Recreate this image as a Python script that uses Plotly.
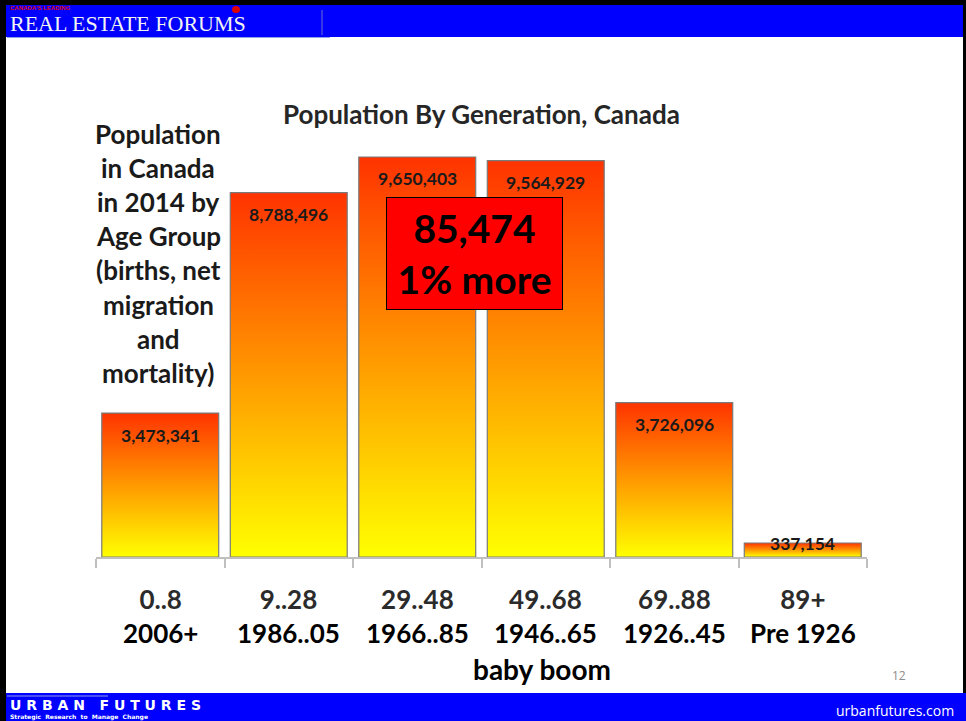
import plotly.graph_objects as go

# Population by generation, Canada 2014
age_groups = ["0..8", "9..28", "29..48", "49..68", "69..88", "89+"]
birth_years = ["2006+", "1986..05", "1966..85", "1946..65", "1926..45", "Pre 1926"]
population = [3473341, 8788496, 9650403, 9564929, 3726096, 337154]

side_note = ["Population", "in Canada", "in 2014 by", "Age Group", "(births, net",
             "migration", "and", "mortality)"]

FONT = "Lato"
L, R, T, B = 96, 867, 40, 557   # plot area in pixels
W, H = 966, 721


def px_x(x):
    return (x - L) / (R - L)


def px_y(y):
    return (B - y) / (B - T)


def label(x, y, text, size, color="#111", weight="bold", family=FONT, xanchor="center", **kw):
    return dict(x=px_x(x), y=px_y(y), xref="paper", yref="paper", text=text,
                showarrow=False, xanchor=xanchor, yanchor="middle",
                font=dict(family=family, size=size, color=color, weight=weight), **kw)


fig = go.Figure()

half = 0.455
grad = [[0, "#FFFF00"], [0.5, "#FF9900"], [1, "#FF3300"]]
for i, v in enumerate(population):
    fig.add_trace(go.Scatter(
        x=[i - half, i - half, i + half, i + half, i - half],
        y=[0, v, v, 0, 0],
        mode="lines", fill="toself",
        fillgradient=dict(type="vertical", colorscale=grad),
        line=dict(color="#7a7a7a", width=1.2),
        showlegend=False, hoverinfo="skip",
    ))

ann = []
# value labels
for i, v in enumerate(population):
    ann.append(dict(x=i, y=v, xref="x", yref="y", text=f"{v:,}", showarrow=False,
                    xanchor="center", yanchor="middle",
                    yshift=-22 if v > 1e6 else 0,
                    font=dict(family=FONT, size=17.5, color="#1a1a1a", weight="bold")))

# category labels (age range over birth years)
for i, (a, b) in enumerate(zip(age_groups, birth_years)):
    ann.append(dict(x=i, y=px_y(616), xref="x", yref="paper", showarrow=False,
                    text=f"<span style='color:#2b2b2b'>{a}</span><br>{b}",
                    xanchor="center", yanchor="middle",
                    font=dict(family=FONT, size=26, color="#000", weight="bold")))
ann.append(label(542, 669, "baby boom", 28, color="#000"))

# side note
for k, line in enumerate(side_note):
    ann.append(label(158, 134 + k * 34.1, line, 26, color="#1a1a1a"))

# difference box
diff = population[2] - population[3]
pct = round(diff / population[3] * 100)
ann.append(label(474.5, 253.5, f"{diff:,}<br>{pct}% more", 39, color="#000",
                 width=175, height=111, bgcolor="#FF0000", bordercolor="#000",
                 borderwidth=1, borderpad=0))

# title
ann.append(label(481, 114, "Population By Generation, Canada", 26, color="#262626"))

# slide header / footer
ann.append(label(8, 23, "REAL ESTATE FORUMS", 22, color="#f2f2f2", weight="normal",
                 family="Liberation Serif", xanchor="left"))
ann.append(label(8, 8, "CANADA'S LEADING", 6, color="#e00000", family="Liberation Sans",
                 xanchor="left"))
ann.append(label(8, 705, "U R B A N   F U T U R E S", 14, color="#fff", family="DejaVu Sans",
                 xanchor="left"))
ann.append(label(8, 717, "Strategic  Research  to  Manage  Change", 6, color="#fff",
                 family="DejaVu Sans", xanchor="left"))
ann.append(label(956, 710, "urbanfutures.com", 14, color="#fff", weight="normal",
                 family="Open Sans", xanchor="right"))
ann.append(label(899, 675, "12", 12, color="#8c8c8c", weight="normal", family="Open Sans"))

shapes = [
    dict(type="rect", xref="paper", yref="paper", x0=px_x(0), x1=px_x(W), y0=px_y(0), y1=px_y(37),
         fillcolor="#0000FF", line_width=0, layer="below"),
    dict(type="rect", xref="paper", yref="paper", x0=px_x(0), x1=px_x(W), y0=px_y(693), y1=px_y(H),
         fillcolor="#0000FF", line_width=0, layer="below"),
    dict(type="line", xref="paper", yref="paper", x0=px_x(7), x1=px_x(330), y0=px_y(37.5), y1=px_y(37.5),
         line=dict(color="#8fa0e8", width=1)),
    dict(type="line", xref="paper", yref="paper", x0=px_x(322), x1=px_x(322), y0=px_y(10), y1=px_y(35),
         line=dict(color="#6f6fd0", width=1)),
    dict(type="line", xref="paper", yref="paper", x0=px_x(7), x1=px_x(108), y0=px_y(696), y1=px_y(696),
         line=dict(color="#8fa0e8", width=1)),
    # black frame
    dict(type="rect", xref="paper", yref="paper", x0=px_x(0), x1=px_x(W), y0=px_y(0), y1=px_y(5),
         fillcolor="#000", line_width=0),
    dict(type="rect", xref="paper", yref="paper", x0=px_x(0), x1=px_x(6), y0=px_y(0), y1=px_y(H),
         fillcolor="#000", line_width=0),
    dict(type="rect", xref="paper", yref="paper", x0=px_x(963), x1=px_x(W), y0=px_y(0), y1=px_y(693),
         fillcolor="#000", line_width=0),
    # red leaf mark
    dict(type="circle", xref="paper", yref="paper", x0=px_x(232), x1=px_x(240), y0=px_y(6), y1=px_y(13),
         fillcolor="#e00000", line_width=0),
]

fig.update_layout(
    width=W, height=H,
    margin=dict(l=L, r=W - R, t=T, b=H - B),
    paper_bgcolor="#fff", plot_bgcolor="#fff",
    xaxis=dict(range=[-0.5, 5.5], tickvals=[k - 0.5 for k in range(7)],
               ticktext=[""] * 7, ticks="outside", ticklen=9, tickcolor="#bfbfbf",
               tickwidth=1.5, showline=True, linecolor="#bfbfbf", linewidth=1.5,
               showgrid=False, zeroline=False, fixedrange=True),
    yaxis=dict(range=[0, (B - T) / 41.45 * 1e6], visible=False, fixedrange=True),
    annotations=ann, shapes=shapes,
)

fig.write_html("out.html", config={"displayModeBar": False},
               post_script="document.body.style.margin='0px';")
